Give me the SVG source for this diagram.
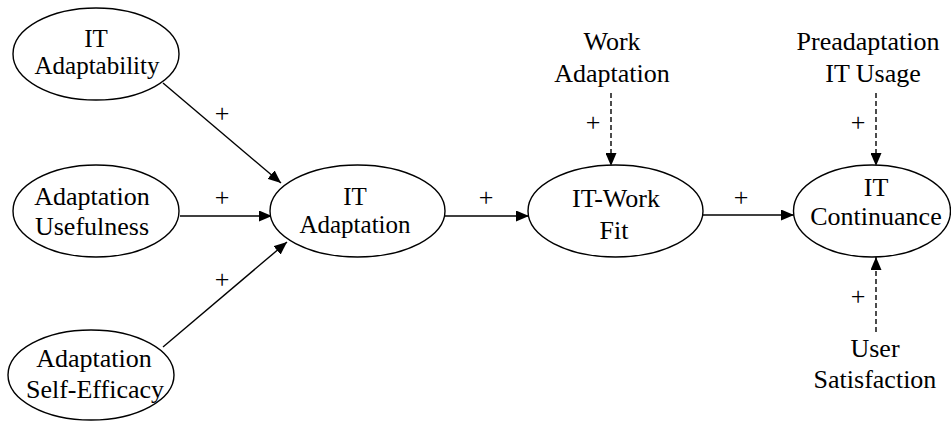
<svg xmlns="http://www.w3.org/2000/svg" width="951" height="422" viewBox="0 0 951 422">
  <style>
    .node ellipse { fill: #ffffff; stroke: #000000; stroke-width: 1.4; }
    text { font-family: "Liberation Serif", "Times New Roman", serif; font-size: 26px; fill: #000000; text-anchor: middle; }
    .tight text { font-size: 25px; }
    .edge { stroke: #000000; stroke-width: 1.4; fill: none; marker-end: url(#arrow); }
    .dash { stroke-dasharray: 5 3; }
  </style>
  <defs>
    <marker id="arrow" markerUnits="userSpaceOnUse" markerWidth="13" markerHeight="11" refX="13" refY="5.5" orient="auto">
      <path d="M0,0 L13,5.5 L0,11 z" fill="#000000"/>
    </marker>
  </defs>
  <rect width="951" height="422" fill="#ffffff"/>

  <g id="connectors">
    <line class="edge" x1="163" y1="83" x2="281" y2="183"/>
    <line class="edge" x1="180" y1="216" x2="272" y2="216"/>
    <line class="edge" x1="163" y1="347" x2="287" y2="242"/>
    <line class="edge" x1="445" y1="216" x2="529" y2="216"/>
    <line class="edge" x1="703" y1="215" x2="794" y2="215"/>
    <line class="edge dash" x1="611" y1="93" x2="611" y2="166"/>
    <line class="edge dash" x1="876" y1="93" x2="876" y2="166"/>
    <line class="edge dash" x1="876" y1="332" x2="876" y2="257"/>
    <text x="222" y="122">+</text>
    <text x="222" y="206">+</text>
    <text x="222" y="288">+</text>
    <text x="486" y="206">+</text>
    <text x="741" y="206">+</text>
    <text x="593" y="131">+</text>
    <text x="858" y="131">+</text>
    <text x="858" y="305">+</text>
  </g>

  <g id="it-adaptability" class="node tight">
    <ellipse cx="96" cy="54" rx="83" ry="46"/>
    <text x="96" y="47">IT</text>
    <text x="97" y="74">Adaptability</text>
  </g>
  <g id="adaptation-usefulness" class="node">
    <ellipse cx="96" cy="211" rx="83" ry="46"/>
    <text x="92" y="205">Adaptation</text>
    <text x="92" y="235">Usefulness</text>
  </g>
  <g id="adaptation-self-efficacy" class="node">
    <ellipse cx="91" cy="375" rx="83" ry="45"/>
    <text x="94" y="367">Adaptation</text>
    <text x="95" y="398">Self-Efficacy</text>
  </g>
  <g id="it-adaptation" class="node tight">
    <ellipse cx="357.5" cy="211" rx="87.5" ry="46"/>
    <text x="355" y="205">IT</text>
    <text x="355" y="233">Adaptation</text>
  </g>
  <g id="it-work-fit" class="node">
    <ellipse cx="615.5" cy="211" rx="87.5" ry="46"/>
    <text x="616" y="207">IT-Work</text>
    <text x="614" y="239">Fit</text>
  </g>
  <g id="it-continuance" class="node">
    <ellipse cx="872" cy="211" rx="78.5" ry="46"/>
    <text x="876" y="196">IT</text>
    <text x="876" y="225">Continuance</text>
  </g>
  <g id="work-adaptation">
    <text x="612" y="50">Work</text>
    <text x="612" y="82">Adaptation</text>
  </g>
  <g id="preadaptation-it-usage">
    <text x="868" y="50">Preadaptation</text>
    <text x="873" y="82">IT Usage</text>
  </g>
  <g id="user-satisfaction">
    <text x="875" y="357">User</text>
    <text x="875" y="388">Satisfaction</text>
  </g>
</svg>
